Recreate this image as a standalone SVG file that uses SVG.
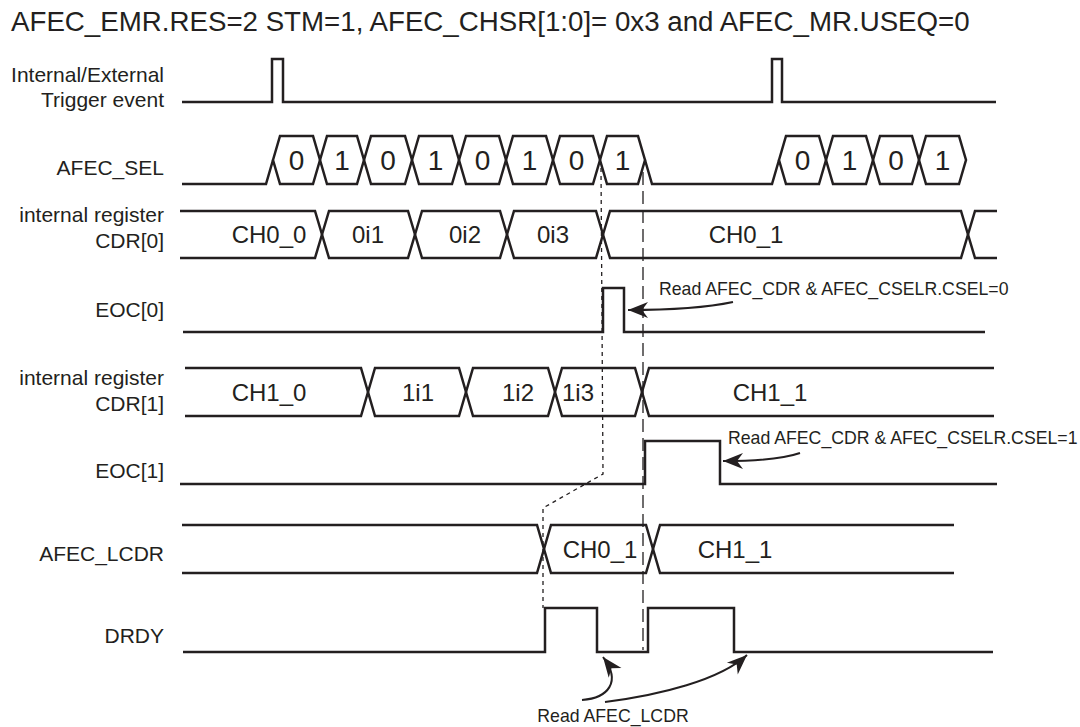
<svg xmlns="http://www.w3.org/2000/svg" width="1080" height="727" viewBox="0 0 1080 727">
<defs>
<style>
.w{fill:none;stroke:#231f20;stroke-width:2.5;stroke-linejoin:miter}
.lbl{font-family:"Liberation Sans",Arial,sans-serif;font-size:21px;fill:#231f20;text-anchor:end}
.val{font-family:"Liberation Sans",Arial,sans-serif;font-size:24px;fill:#231f20;text-anchor:middle}
.dig{font-family:"Liberation Sans",Arial,sans-serif;font-size:28px;fill:#231f20;text-anchor:middle}
.note{font-family:"Liberation Sans",Arial,sans-serif;font-size:17.7px;fill:#231f20}
.ds{fill:none;stroke:#231f20;stroke-width:1.3;stroke-dasharray:4 4}
.dl{fill:none;stroke:#231f20;stroke-width:1.3;stroke-dasharray:13 6}
.ar{fill:none;stroke:#231f20;stroke-width:2;marker-end:url(#ah)}
</style>
<marker id="ah" markerWidth="24" markerHeight="18" refX="0" refY="0" viewBox="-22 -9 24 18" orient="auto" markerUnits="userSpaceOnUse">
<path d="M0,0 L-20,-8 L-14,0 L-20,8 Z" fill="#231f20"/>
</marker>
</defs>
<rect width="1080" height="727" fill="#ffffff"/>
<text x="11" y="31" font-family="Liberation Sans, Arial, sans-serif" font-size="27.7" fill="#231f20">AFEC_EMR.RES=2 STM=1, AFEC_CHSR[1:0]= 0x3 and AFEC_MR.USEQ=0</text>

<g id="trigger">
<text class="lbl" x="164" y="82">Internal/External</text>
<text class="lbl" x="164" y="107">Trigger event</text>
<path class="w" d="M182,102 H272 V59 H283 V102 H772 V59 H782 V102 H996"/>
</g>

<g id="afec_sel">
<text class="lbl" x="164" y="175">AFEC_SEL</text>
<path class="w" d="M182,184 H266 L273,160"/>
<path class="w" d="M273,160 L280,136 H313 L320,160 L313,184 H280 Z"/>
<path class="w" d="M320,160 L327,136 H357 L364,160 L357,184 H327 Z"/>
<path class="w" d="M364,160 L371,136 H405 L412,160 L405,184 H371 Z"/>
<path class="w" d="M412,160 L419,136 H452 L459,160 L452,184 H419 Z"/>
<path class="w" d="M459,160 L466,136 H499 L506,160 L499,184 H466 Z"/>
<path class="w" d="M506,160 L513,136 H546 L553,160 L546,184 H513 Z"/>
<path class="w" d="M553,160 L560,136 H593 L600,160 L593,184 H560 Z"/>
<path class="w" d="M600,160 L607,136 H638 L645,160 L638,184 H607 Z"/>
<path class="w" d="M645,160 L652,184 H772 L779,160"/>
<path class="w" d="M779,160 L786,136 H819 L826,160 L819,184 H786 Z"/>
<path class="w" d="M826,160 L833,136 H866 L873,160 L866,184 H833 Z"/>
<path class="w" d="M873,160 L880,136 H912 L919,160 L912,184 H880 Z"/>
<path class="w" d="M919,160 L926,136 H959 L966,160 L959,184 H926 Z"/>
<text class="dig" x="296.5" y="170">0</text>
<text class="dig" x="342" y="170">1</text>
<text class="dig" x="388" y="170">0</text>
<text class="dig" x="435.5" y="170">1</text>
<text class="dig" x="482.5" y="170">0</text>
<text class="dig" x="529.5" y="170">1</text>
<text class="dig" x="576.5" y="170">0</text>
<text class="dig" x="622.5" y="170">1</text>
<text class="dig" x="802.5" y="170">0</text>
<text class="dig" x="849.5" y="170">1</text>
<text class="dig" x="896" y="170">0</text>
<text class="dig" x="942.5" y="170">1</text>
</g>

<g id="cdr0">
<text class="lbl" x="164" y="222">internal register</text>
<text class="lbl" x="164" y="248">CDR[0]</text>
<path class="w" d="M180,211 H315 L322,234.5 L315,258 H180"/>
<path class="w" d="M322,234.5 L329,211 H408 L415,234.5 L408,258 H329 Z"/>
<path class="w" d="M415,234.5 L422,211 H500 L507,234.5 L500,258 H422 Z"/>
<path class="w" d="M507,234.5 L514,211 H596 L603,234.5 L596,258 H514 Z"/>
<path class="w" d="M603,234.5 L610,211 H961 L968,234.5 L961,258 H610 Z"/>
<path class="w" d="M997,211 H975 L968,234.5 L975,258 H997"/>
<text class="val" x="269" y="243">CH0_0</text>
<text class="val" x="368" y="243">0i1</text>
<text class="val" x="465" y="243">0i2</text>
<text class="val" x="553" y="243">0i3</text>
<text class="val" x="746" y="243">CH0_1</text>
</g>

<g id="eoc0">
<text class="lbl" x="164" y="317">EOC[0]</text>
<path class="w" d="M183,332 H603 V288 H624 V332 H985"/>
</g>

<g id="cdr1">
<text class="lbl" x="164" y="385">internal register</text>
<text class="lbl" x="164" y="411">CDR[1]</text>
<path class="w" d="M185,368 H361 L368,392 L361,416 H185"/>
<path class="w" d="M368,392 L375,368 H459 L466,392 L459,416 H375 Z"/>
<path class="w" d="M466,392 L473,368 H548 L555,392 L548,416 H473 Z"/>
<path class="w" d="M555,392 L562,368 H635 L642,392 L635,416 H562 Z"/>
<path class="w" d="M994,368 H649 L642,392 L649,416 H994"/>
<text class="val" x="269" y="401">CH1_0</text>
<text class="val" x="418" y="401">1i1</text>
<text class="val" x="518" y="401">1i2</text>
<text class="val" x="578" y="401">1i3</text>
<text class="val" x="770" y="401">CH1_1</text>
</g>

<g id="eoc1">
<text class="lbl" x="164" y="478">EOC[1]</text>
<path class="w" d="M180,484 H645 V441 H720 V484 H997"/>
</g>

<g id="lcdr">
<text class="lbl" x="164" y="561">AFEC_LCDR</text>
<path class="w" d="M182,525 H537 L544,549 L537,573 H182"/>
<path class="w" d="M544,549 L551,525 H646 L653,549 L646,573 H551 Z"/>
<path class="w" d="M954,525 H660 L653,549 L660,573 H954"/>
<text class="val" x="600" y="558">CH0_1</text>
<text class="val" x="735" y="558">CH1_1</text>
</g>

<g id="drdy">
<text class="lbl" x="164" y="643">DRDY</text>
<path class="w" d="M183,652 H545 V608 H597 V652 H648 V608 H734 V652 H993"/>
</g>

<g id="connectors">
<path class="ds" d="M601,168 L603,474 L543,508 V608"/>
<path class="dl" d="M643,172 V650"/>
<path class="ar" d="M733,302 C700,309 665,310 628,310"/>
<path class="ar" d="M800,453 C780,460 750,461 723,461"/>
<path class="ar" d="M582,700 C608,698 622,682 603,657"/>
<path class="ar" d="M605,702 C660,695 720,680 747,655"/>
<text class="note" x="659" y="295">Read AFEC_CDR &amp; AFEC_CSELR.CSEL=0</text>
<text class="note" x="728" y="444">Read AFEC_CDR &amp; AFEC_CSELR.CSEL=1</text>
<text class="note" x="613" y="722" text-anchor="middle">Read AFEC_LCDR</text>
</g>
</svg>
